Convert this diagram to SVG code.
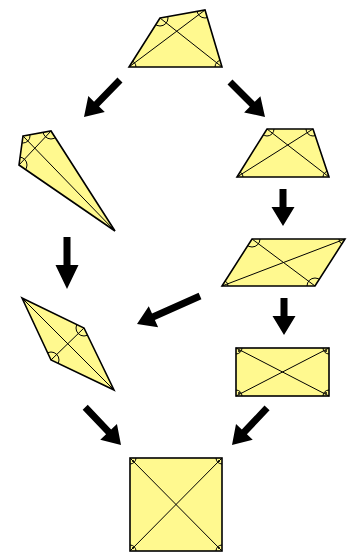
<svg xmlns="http://www.w3.org/2000/svg" xmlns:xlink="http://www.w3.org/1999/xlink" width="351" height="553" viewBox="0 0 351 553">
<style>
.sh{fill:#fff98f;stroke:#000;stroke-width:1.6;stroke-linejoin:miter}
.dg{stroke:#000;stroke-width:1;fill:none}
.mk{fill:none;stroke:#000;stroke-width:1}
.dt{fill:#000}
.ar{fill:#000}
</style>
<defs>
<clipPath id="cQuad"><polygon points="160,18 205,10 222,67 129,67"/></clipPath>
<clipPath id="cKite"><polygon points="23,136 51,131 115,231 19,165"/></clipPath>
<clipPath id="cTrap"><polygon points="267,129 313,129 329,177 237,177"/></clipPath>
<clipPath id="cPar"><polygon points="252,239 345,239 315,286 222,286"/></clipPath>
<clipPath id="cRho"><polygon points="22,298 84,328 114,390 51,360"/></clipPath>
<clipPath id="cRect"><rect x="236" y="348" width="93" height="48"/></clipPath>
<clipPath id="cSq"><rect x="130" y="458" width="92" height="93"/></clipPath>
</defs>
<rect width="351" height="553" fill="#fff"/>

<g id="quadrilateral">
<polygon class="sh" points="160,18 205,10 222,67 129,67"/>
<line class="dg" x1="160" y1="18" x2="222" y2="67"/>
<line class="dg" x1="205" y1="10" x2="129" y2="67"/>
<g clip-path="url(#cQuad)">
<circle class="mk" cx="160" cy="18" r="8"/>
<circle class="mk" cx="205" cy="10" r="8"/>
<circle class="mk" cx="222" cy="67" r="7"/>
<circle class="mk" cx="129" cy="67" r="7"/>
</g>
</g>

<g id="kite">
<polygon class="sh" points="23,136 51,131 115,231 19,165"/>
<line class="dg" x1="23" y1="136" x2="115" y2="231"/>
<line class="dg" x1="51" y1="131" x2="19" y2="165"/>
<g clip-path="url(#cKite)">
<circle class="mk" cx="23" cy="136" r="7"/>
<circle class="mk" cx="51" cy="131" r="8"/>
<circle class="mk" cx="19" cy="165" r="8"/>
<circle class="mk" cx="115" cy="231" r="5"/>
</g>
</g>

<g id="trapezoid">
<polygon class="sh" points="267,129 313,129 329,177 237,177"/>
<line class="dg" x1="267" y1="129" x2="329" y2="177"/>
<line class="dg" x1="313" y1="129" x2="237" y2="177"/>
<g clip-path="url(#cTrap)">
<circle class="mk" cx="267" cy="129" r="7"/>
<circle class="mk" cx="313" cy="129" r="7"/>
<circle class="mk" cx="329" cy="177" r="6"/>
<circle class="mk" cx="237" cy="177" r="6"/>
</g>
</g>

<g id="parallelogram">
<polygon class="sh" points="252,239 345,239 315,286 222,286"/>
<line class="dg" x1="252" y1="239" x2="315" y2="286"/>
<line class="dg" x1="345" y1="239" x2="222" y2="286"/>
<g clip-path="url(#cPar)">
<circle class="mk" cx="252" cy="239" r="8"/>
<circle class="mk" cx="345" cy="239" r="6"/>
<circle class="mk" cx="315" cy="286" r="8"/>
<circle class="mk" cx="222" cy="286" r="6"/>
</g>
</g>

<g id="rhombus">
<polygon class="sh" points="22,298 84,328 114,390 51,360"/>
<line class="dg" x1="22" y1="298" x2="114" y2="390"/>
<line class="dg" x1="84" y1="328" x2="51" y2="360"/>
<g clip-path="url(#cRho)">
<circle class="mk" cx="22" cy="298" r="5"/>
<circle class="mk" cx="84" cy="328" r="8"/>
<circle class="mk" cx="114" cy="390" r="5"/>
<circle class="mk" cx="51" cy="360" r="8"/>
</g>
</g>

<g id="rectangle">
<rect class="sh" x="236" y="348" width="93" height="48"/>
<line class="dg" x1="236" y1="348" x2="329" y2="396"/>
<line class="dg" x1="329" y1="348" x2="236" y2="396"/>
<g clip-path="url(#cRect)">
<circle class="mk" cx="236" cy="348" r="6"/>
<circle class="mk" cx="329" cy="348" r="6"/>
<circle class="mk" cx="329" cy="396" r="6"/>
<circle class="mk" cx="236" cy="396" r="6"/>
</g>
<circle class="dt" cx="239" cy="351" r="1"/>
<circle class="dt" cx="326" cy="351" r="1"/>
<circle class="dt" cx="326" cy="393" r="1"/>
<circle class="dt" cx="239" cy="393" r="1"/>
</g>

<g id="square">
<rect class="sh" x="130" y="458" width="92" height="93"/>
<line class="dg" x1="130" y1="458" x2="222" y2="551"/>
<line class="dg" x1="222" y1="458" x2="130" y2="551"/>
<g clip-path="url(#cSq)">
<circle class="mk" cx="130" cy="458" r="6"/>
<circle class="mk" cx="222" cy="458" r="6"/>
<circle class="mk" cx="222" cy="551" r="6"/>
<circle class="mk" cx="130" cy="551" r="6"/>
</g>
<circle class="dt" cx="133" cy="461" r="1"/>
<circle class="dt" cx="219" cy="461" r="1"/>
<circle class="dt" cx="219" cy="548" r="1"/>
<circle class="dt" cx="133" cy="548" r="1"/>
</g>

<g id="connectors">
<path class="ar" transform="translate(84,117) rotate(134.2)" d="M0,0 L-18,-11.5 L-18,-3.5 L-51.6,-3.5 L-51.6,3.5 L-18,3.5 L-18,11.5 Z"/>
<path class="ar" transform="translate(265,117) rotate(45)" d="M0,0 L-18,-11.5 L-18,-3.5 L-49.5,-3.5 L-49.5,3.5 L-18,3.5 L-18,11.5 Z"/>
<path class="ar" transform="translate(283,226) rotate(90)" d="M0,0 L-19,-11.5 L-19,-3.5 L-37,-3.5 L-37,3.5 L-19,3.5 L-19,11.5 Z"/>
<path class="ar" transform="translate(67,289) rotate(90)" d="M0,0 L-24,-11.5 L-24,-3.5 L-52,-3.5 L-52,3.5 L-24,3.5 L-24,11.5 Z"/>
<path class="ar" transform="translate(137,324) rotate(156)" d="M0,0 L-18,-11.5 L-18,-3.5 L-69,-3.5 L-69,3.5 L-18,3.5 L-18,11.5 Z"/>
<path class="ar" transform="translate(284,335) rotate(90)" d="M0,0 L-19,-11.5 L-19,-3.5 L-37,-3.5 L-37,3.5 L-19,3.5 L-19,11.5 Z"/>
<path class="ar" transform="translate(121,445) rotate(46.5)" d="M0,0 L-18,-11.5 L-18,-3.5 L-52,-3.5 L-52,3.5 L-18,3.5 L-18,11.5 Z"/>
<path class="ar" transform="translate(232,445) rotate(133.4)" d="M0,0 L-18,-11.5 L-18,-3.5 L-51,-3.5 L-51,3.5 L-18,3.5 L-18,11.5 Z"/>
</g>
</svg>
